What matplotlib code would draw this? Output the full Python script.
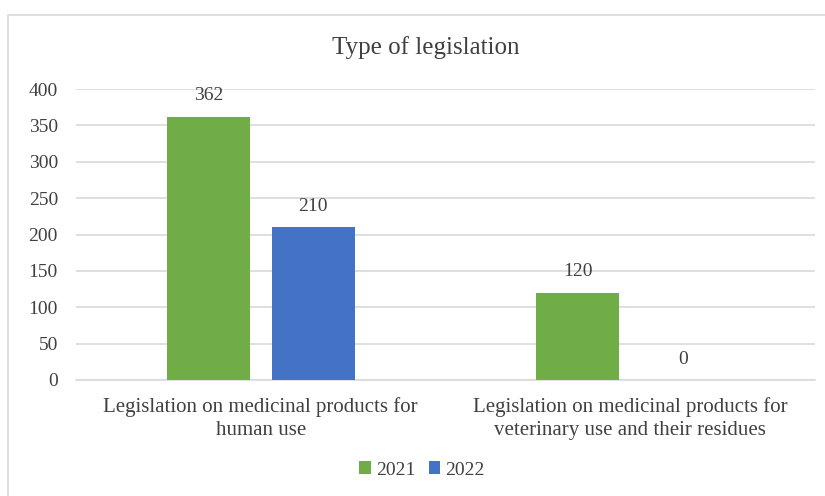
import matplotlib
matplotlib.use("Agg")
import matplotlib.pyplot as plt
import numpy as np
from matplotlib.patches import Rectangle

categories = ["Legislation on medicinal products for\nhuman use",
              "Legislation on medicinal products for\nveterinary use and their residues"]
series_names = ["2021", "2022"]
values_2021 = [362, 120]
values_2022 = [210, 0]
yticks = [0, 50, 100, 150, 200, 250, 300, 350, 400]
colors = ["#70AD47", "#4472C4"]

plt.rcParams['font.family'] = ['Liberation Serif', 'DejaVu Serif']
txt = "#404040"

W, H = 825, 496
fig = plt.figure(figsize=(W/100, H/100), dpi=100)
fig.patch.set_facecolor("white")

# chart border
fig.add_artist(Rectangle((8/W, -0.1), 2, 1 - 15/H + 0.1, transform=fig.transFigure,
                         fill=False, edgecolor="#d9d9d9", linewidth=1.2))

ax = fig.add_axes([76/W, 1 - 380/H, (815-76)/W, (380-89)/H])
x = np.arange(len(categories))
bw = 0.224
off = 0.142
b1 = ax.bar(x - off, values_2021, bw, color=colors[0], label=series_names[0], zorder=3)
b2 = ax.bar(x + off, values_2022, bw, color=colors[1], label=series_names[1], zorder=3)
for bars in (b1, b2):
    for r in bars:
        ax.annotate(f"{int(r.get_height())}", (r.get_x() + r.get_width()/2, r.get_height()),
                    xytext=(0, 9), textcoords="offset points", ha="center", va="bottom",
                    fontsize=14, color=txt)

ax.set_xlim(-0.5, 1.5)
ax.set_ylim(0, 400)
ax.set_yticks(yticks)
ax.set_yticklabels([str(v) for v in yticks], fontsize=14, color=txt)
ax.set_xticks(x)
ax.set_xticklabels(categories, fontsize=15, color=txt, linespacing=1.3)
ax.tick_params(axis="both", length=0)
ax.tick_params(axis="y", pad=13)
ax.tick_params(axis="x", pad=12)
ax.grid(axis="y", color="#d9d9d9", linewidth=1.2, zorder=0)
for s in ["top", "right", "left"]:
    ax.spines[s].set_visible(False)
ax.spines["bottom"].set_color("#d9d9d9")
ax.spines["bottom"].set_linewidth(1.2)

fig.text(426/W, 1 - 48/H, "Type of legislation", ha="center", va="center",
         fontsize=18, color=txt)

fig.legend(handles=[b1, b2], labels=series_names, loc="center", bbox_to_anchor=(422/W, 1 - 470/H),
           ncol=2, frameon=False, fontsize=14, handlelength=0.6, handleheight=0.6,
           handletextpad=0.25, columnspacing=0.7, labelcolor=txt)

fig.savefig("out.png", dpi=100)
